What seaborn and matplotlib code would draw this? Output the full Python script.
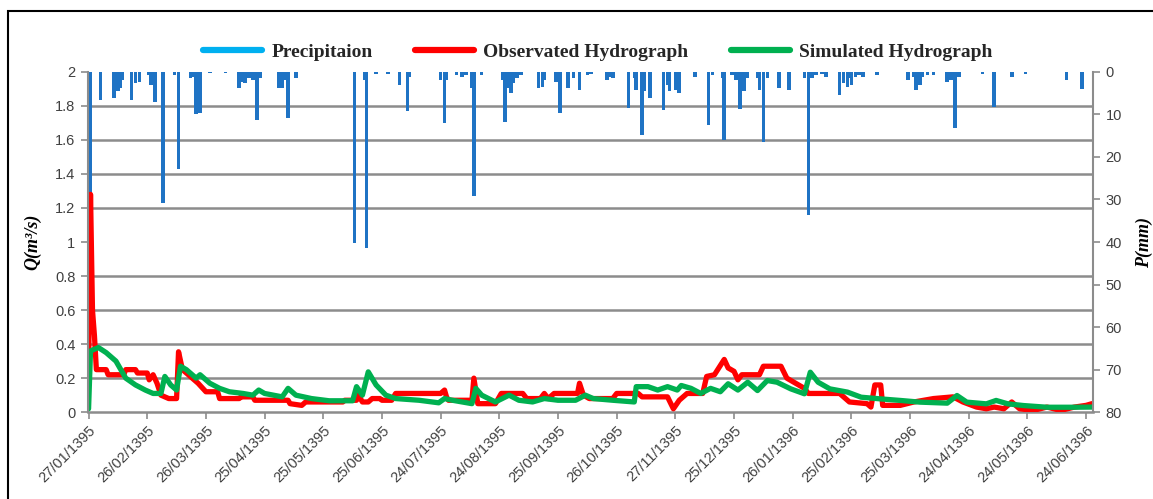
import numpy as np
import matplotlib
matplotlib.use("Agg")
import matplotlib.pyplot as plt
from matplotlib.lines import Line2D
from matplotlib.patches import Rectangle
import seaborn as sns

# daily rainfall events (day index from 27/01/1395, mm)
rain_day = [1, 6, 13, 15, 16, 17, 22, 24, 26, 31, 32, 34, 38, 44, 46, 52, 54, 55, 57, 62,
            70, 77, 78, 80, 82, 84, 86, 88, 97, 99, 101, 102, 106, 136, 141, 142, 147, 153,
            159, 163, 164, 180, 182, 183, 188, 191, 193, 196, 197, 201, 212, 213, 215, 216,
            217, 219, 221, 230, 232, 233, 239, 241, 245, 248, 251, 255, 257, 265, 267, 268,
            276, 279, 280, 283, 284, 287, 294, 296, 297, 300, 302, 310, 317, 319, 324, 325,
            329, 331, 333, 335, 337, 342, 343, 345, 347, 353, 358, 366, 368, 370, 372, 375,
            377, 384, 386, 388, 389, 390, 392, 394, 396, 403, 419, 422, 423, 425, 426, 429,
            432, 439, 441, 443, 445, 457, 463, 472, 479, 500, 508]
rain_mm = [29.0, 6.6, 6.2, 4.6, 3.8, 1.9, 6.6, 2.7, 2.3, 0.7, 3.1, 7.0, 30.9, 0.7, 22.8, 1.5,
           1.1, 10.0, 9.7, 0.3, 0.3, 3.8, 2.3, 2.7, 1.5, 1.9, 11.3, 1.5, 3.8, 3.8, 1.9, 10.9,
           1.5, 40.2, 1.9, 41.5, 0.4, 0.4, 3.2, 9.2, 1.1, 1.9, 12.1, 1.9, 0.7, 1.1, 0.7, 3.8,
           29.2, 0.7, 1.9, 11.7, 3.8, 5.0, 2.7, 1.5, 0.7, 3.8, 3.5, 1.9, 2.3, 9.7, 3.8, 1.5,
           4.2, 0.7, 0.4, 1.9, 1.1, 1.5, 8.4, 1.5, 4.2, 14.8, 4.6, 6.2, 8.9, 3.1, 4.6, 4.2,
           5.0, 1.1, 12.5, 0.7, 1.5, 16.0, 0.7, 1.9, 8.7, 4.6, 1.5, 1.5, 4.2, 16.4, 1.5, 3.8,
           4.2, 1.5, 33.6, 1.5, 0.7, 0.4, 1.1, 5.4, 2.7, 3.5, 1.5, 3.1, 1.1, 0.7, 1.1, 0.7,
           1.9, 1.1, 4.2, 3.1, 1.1, 0.7, 0.7, 2.3, 1.9, 13.3, 1.1, 0.55, 8.2, 1.3, 0.5, 2.0, 4.0]

# observed hydrograph breakpoints (day, m3/s)
obs_day = [0, 1, 2, 3, 4, 9, 10, 18, 19, 24, 25, 30, 31, 33, 35, 37, 41, 45, 46, 48, 56, 60,
           66, 67, 77, 78, 84, 85, 94, 102, 103, 109, 111, 130, 131, 137, 138, 140, 143, 145,
           149, 150, 155, 157, 180, 182, 183, 184, 196, 197, 199, 208, 211, 222, 224, 231,
           233, 235, 238, 250, 251, 253, 256, 268, 270, 281, 283, 296, 299, 302, 306, 314,
           316, 320, 325, 327, 330, 332, 334, 343, 345, 354, 357, 360, 366, 368, 384, 389,
           398, 400, 402, 405, 406, 415, 422, 432, 442, 447, 454, 459, 463, 468, 472, 476,
           483, 490, 497, 504, 510, 513]
obs_q = [0.22, 1.28, 0.60, 0.45, 0.25, 0.25, 0.22, 0.22, 0.25, 0.25, 0.23, 0.23, 0.19, 0.22,
         0.17, 0.10, 0.08, 0.08, 0.355, 0.25, 0.17, 0.12, 0.12, 0.08, 0.08, 0.09, 0.09, 0.07,
         0.07, 0.07, 0.05, 0.04, 0.06, 0.06, 0.07, 0.07, 0.10, 0.06, 0.06, 0.08, 0.08, 0.07,
         0.07, 0.11, 0.11, 0.13, 0.09, 0.07, 0.07, 0.20, 0.05, 0.05, 0.11, 0.11, 0.08, 0.08,
         0.11, 0.08, 0.11, 0.11, 0.17, 0.10, 0.08, 0.08, 0.11, 0.11, 0.09, 0.09, 0.02, 0.07,
         0.11, 0.11, 0.21, 0.22, 0.31, 0.26, 0.24, 0.19, 0.22, 0.22, 0.27, 0.27, 0.20, 0.18,
         0.14, 0.11, 0.11, 0.06, 0.05, 0.03, 0.16, 0.16, 0.04, 0.04, 0.06, 0.08, 0.09, 0.06,
         0.03, 0.02, 0.03, 0.02, 0.06, 0.02, 0.01, 0.03, 0.01, 0.03, 0.04, 0.05]

# simulated hydrograph breakpoints (day, m3/s)
sim_day = [0, 1, 5, 9, 14, 19, 24, 29, 33, 37, 39, 42, 45, 47, 50, 55, 57, 62, 67, 72, 79,
           84, 87, 90, 99, 102, 106, 114, 123, 135, 137, 140, 143, 147, 152, 157, 169, 179,
           182, 186, 196, 198, 201, 208, 215, 220, 227, 233, 240, 249, 254, 258, 268, 279,
           280, 286, 291, 296, 301, 303, 308, 313, 318, 323, 327, 332, 337, 342, 347, 352,
           359, 366, 369, 373, 379, 388, 395, 405, 415, 425, 439, 444, 449, 459, 464, 470,
           478, 490, 504, 513]
sim_q = [0.02, 0.36, 0.38, 0.35, 0.30, 0.20, 0.16, 0.13, 0.11, 0.11, 0.21, 0.16, 0.13, 0.27,
         0.25, 0.20, 0.22, 0.17, 0.14, 0.12, 0.11, 0.10, 0.13, 0.11, 0.09, 0.14, 0.10, 0.08,
         0.067, 0.067, 0.15, 0.10, 0.237, 0.16, 0.10, 0.08, 0.07, 0.055, 0.08, 0.07, 0.05,
         0.14, 0.10, 0.06, 0.10, 0.07, 0.06, 0.08, 0.07, 0.07, 0.10, 0.08, 0.07, 0.06, 0.15,
         0.15, 0.13, 0.15, 0.13, 0.157, 0.14, 0.11, 0.14, 0.12, 0.167, 0.13, 0.176, 0.127,
         0.186, 0.176, 0.137, 0.108, 0.235, 0.176, 0.137, 0.118, 0.088, 0.078, 0.069, 0.059,
         0.053, 0.098, 0.059, 0.049, 0.069, 0.049, 0.039, 0.029, 0.029, 0.03]

tick_labels = ["27/01/1395", "26/02/1395", "26/03/1395", "25/04/1395", "25/05/1395",
               "25/06/1395", "24/07/1395", "24/08/1395", "25/09/1395", "26/10/1395",
               "27/11/1395", "25/12/1395", "26/01/1396", "25/02/1396", "25/03/1396",
               "24/04/1396", "24/05/1396", "24/06/1396"]

sns.set_theme(style="white")
plt.rcParams['font.family'] = ['Liberation Sans', 'DejaVu Sans']

GRID = "#8c8c8c"
TICK = "#404040"
RAIN_C = "#1f73c4"
OBS_C = "#ff0000"
SIM_C = "#00b050"

fig = plt.figure(figsize=(11.53, 4.99), dpi=100)
ax_p = fig.add_axes([0.0763, 0.174, 0.8716, 0.682])
ax_q = ax_p.twinx()

# precipitation bars hang from the top on the right (inverted) axis
ax_p.bar(rain_day, rain_mm, width=1.8, color=RAIN_C, linewidth=0)
ax_p.set_ylim(80, 0)
ax_p.yaxis.tick_right()
ax_p.yaxis.set_label_position('right')
ax_p.set_yticks(np.arange(0, 81, 10))
ax_p.set_yticks(np.arange(0, 81, 8), minor=True)
ax_p.grid(which='minor', axis='y', color=GRID, linewidth=1.8)
ax_p.grid(which='major', visible=False)
ax_p.tick_params(axis='y', which='minor', length=0, right=False, left=False)
ax_p.tick_params(axis='y', which='major', length=5, width=1.2, color=GRID,
                 labelsize=10.5, labelcolor=TICK, pad=4, right=True, left=False)
ax_p.set_ylabel("P(mm)", family='Liberation Serif', fontweight='bold', style='italic',
                fontsize=13, color='black', rotation=90, labelpad=10)

# hydrographs
sns.lineplot(x=obs_day, y=obs_q, ax=ax_q, color=OBS_C, linewidth=3.8,
             solid_joinstyle='round', solid_capstyle='round')
sns.lineplot(x=sim_day, y=sim_q, ax=ax_q, color=SIM_C, linewidth=3.8,
             solid_joinstyle='round', solid_capstyle='round')
ax_q.set_ylim(0, 2)
ax_q.yaxis.tick_left()
ax_q.yaxis.set_label_position('left')
ax_q.set_yticks(np.arange(0, 2.01, 0.2))
ax_q.set_yticklabels(["0", "0.2", "0.4", "0.6", "0.8", "1", "1.2", "1.4", "1.6", "1.8", "2"])
ax_q.tick_params(axis='y', length=5, width=1.2, color=GRID, labelsize=10.5,
                 labelcolor=TICK, pad=4, left=True, right=False)
ax_q.set_ylabel("Q(m³/s)", family='Liberation Serif', fontweight='bold', style='italic',
                fontsize=13, color='black', labelpad=10)
ax_q.grid(False)

ax_p.set_xlim(-0.3, 513.5)
ax_p.set_xticks(np.arange(0, 511, 30))
ax_p.set_xticklabels(tick_labels, rotation=45, ha='right', rotation_mode='anchor')
ax_p.tick_params(axis='x', length=5, width=1.2, color=GRID, labelsize=10.5,
                 labelcolor=TICK, pad=3, bottom=True)

for side in ['left', 'top', 'right']:
    ax_p.spines[side].set_visible(False)
ax_p.spines['bottom'].set_color(GRID)
ax_p.spines['bottom'].set_linewidth(1.8)
for side in ['top', 'bottom']:
    ax_q.spines[side].set_visible(False)
for side in ['left', 'right']:
    ax_q.spines[side].set_color(GRID)
    ax_q.spines[side].set_linewidth(1.5)

handles = [Line2D([], [], color="#00b0f0", linewidth=4.5),
           Line2D([], [], color=OBS_C, linewidth=4.5),
           Line2D([], [], color=SIM_C, linewidth=4.5)]
fig.legend(handles, ["Precipitaion", "Observated Hydrograph", "Simulated Hydrograph"],
           loc='center', bbox_to_anchor=(0.5187, 0.896), ncol=3, frameon=False,
           handlelength=3.0, handletextpad=0.5, columnspacing=2.2,
           prop={'family': 'Liberation Serif', 'weight': 'bold', 'size': 14})

# outer frame of the original figure
fig.patches.append(Rectangle((8 / 1153, -0.1), 1.2, 1.078, transform=fig.transFigure,
                             fill=False, edgecolor='black', linewidth=1.5))

fig.savefig("out.png", dpi=100)
